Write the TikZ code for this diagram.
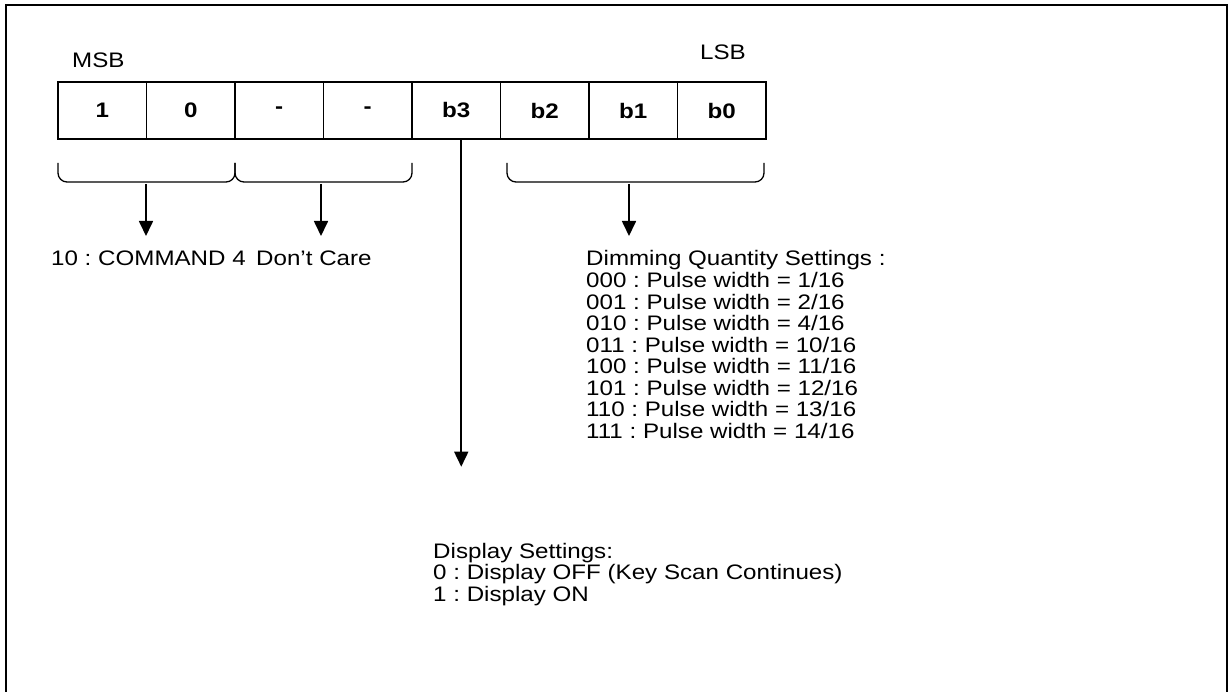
\documentclass[tikz,border=0pt]{standalone}
\usepackage{fontspec}
\newfontfamily\diagfont{Liberation Sans}[FakeStretch=1.15]
\usetikzlibrary{arrows.meta}

\tikzset{
	cell/.style={draw, line width=1.4pt, minimum width=88.5pt, minimum height=57pt,
		inner sep=0pt, font=\diagfont\fontsize{21}{22}\selectfont\bfseries},
	brk/.style={line width=1.3pt, rounded corners=9pt},
	arr/.style={line width=1.7pt, -{Triangle[width=14pt,length=15pt]}},
	lbl/.style={anchor=base west, inner sep=0pt,
		font=\diagfont\fontsize{21}{22}\selectfont\frenchspacing}
}

\begin{document}
\begin{tikzpicture}[x=1pt, y=-1pt]
		\useasboundingbox (0,0) rectangle (1230,692);
		\draw[line width=2pt] (6,692) -- (6,5) -- (1227,5) -- (1227,692);
		
		% register bits
		\foreach \b [count=\i] in {1,0,-,-,b3,b2,b1,b0}
			\node[cell] (c\i) at ({58+88.5*(\i-0.5)},110.5) {\b};
		
		\node[lbl] (msb) at (72,68) {MSB};
		\node[lbl] (lsb) at (700,60) {LSB};
		
		% brackets under the fields
		\draw[brk] (58,163) -- (58,182) -- (235,182) -- (235,163);
		\draw[brk] (235,163) -- (235,182) -- (412,182) -- (412,163);
		\draw[brk] (507,163) -- (507,182) -- (764,182) -- (764,163);
		
		\coordinate (brA) at (146,184);
		\coordinate (brB) at (321,184);
		\coordinate (brC) at (629,184);
		
		\draw[arr] (brA) -- ++(0,52);
		\draw[arr] (brB) -- ++(0,52);
		\draw[arr] (brC) -- ++(0,52);
		\draw[arr] (c5.south) ++(5,0) -- ++(0,327);
		
		\node[lbl] (cmd) at (51,266) {10 : COMMAND 4};
		\node[lbl] (dontcare) at (256,266) {Don’t Care};
		
		% dimming settings
		\foreach \txt [count=\i from 0] in {Dimming Quantity Settings :,
			000 : Pulse width = 1/16, 001 : Pulse width = 2/16,
			010 : Pulse width = 4/16, 011 : Pulse width = 10/16,
			100 : Pulse width = 11/16, 101 : Pulse width = 12/16,
			110 : Pulse width = 13/16, 111 : Pulse width = 14/16}
			\node[lbl] (dim\i) at (586,{266+21.5*\i}) {\txt};
		
		% display settings
		\foreach \txt [count=\i from 0] in {Display Settings:,
			0 : Display OFF (Key Scan Continues), 1 : Display ON}
			\node[lbl] (disp\i) at (433,{558+21.8*\i}) {\txt};
	\end{tikzpicture}
\end{document}
